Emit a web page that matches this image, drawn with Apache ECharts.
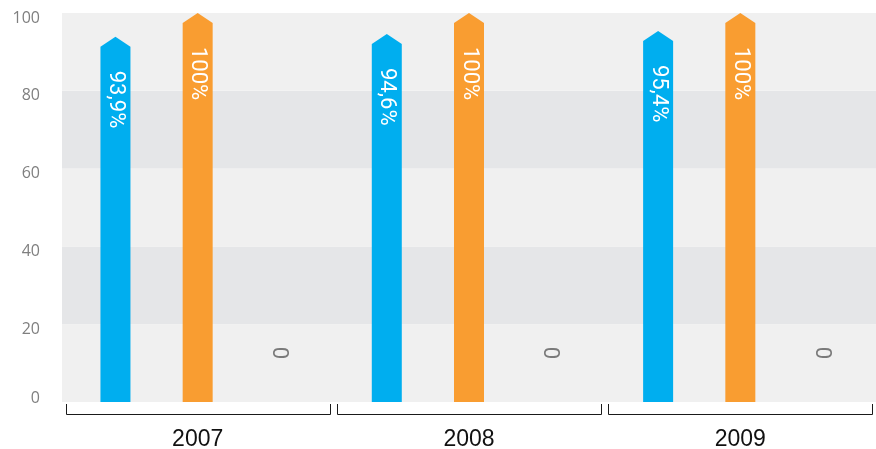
<!DOCTYPE html>
<html>
<head>
<meta charset="utf-8">
<script src="https://cdn.jsdelivr.net/npm/echarts@6/dist/echarts.min.js"></script>
<style>
html,body{margin:0;padding:0;background:#fff;}
#c{width:876px;height:449px;}
</style>
</head>
<body>
<div id="c"></div>
<script>
const categories = ['2007', '2008', '2009'];
const seriesBlue = [93.9, 94.6, 95.4];
const seriesOrange = [100, 100, 100];
const seriesZero = [0, 0, 0];
const yTicks = [0, 20, 40, 60, 80, 100];

function fmt(v) {
  return (Number.isInteger(v) ? String(v) : v.toFixed(1).replace('.', ',')) + '%';
}

function toData(arr) { return arr.map((v, i) => [i, v]); }

function barRenderer(offsetFrac, color) {
  return function (params, api) {
    const cat = api.value(0), v = api.value(1);
    const base = api.coord([cat, 0]);
    const top = api.coord([cat, v]);
    const band = api.size([1, 0])[0];
    const cx = base[0] + band * offsetFrac;
    const w = 30, h = 10;
    return {
      type: 'group',
      children: [
        { type: 'polygon',
          shape: { points: [[cx - w / 2, base[1]], [cx - w / 2, top[1] + h], [cx, top[1]], [cx + w / 2, top[1] + h], [cx + w / 2, base[1]]] },
          style: { fill: color } },
        { type: 'text', x: cx, y: top[1] + 34, rotation: -Math.PI / 2,
          style: { text: fmt(v), fill: '#ffffff', font: '22px Roboto', align: 'left', verticalAlign: 'middle' } }
      ]
    };
  };
}

function zeroRenderer(offsetFrac) {
  return function (params, api) {
    const cat = api.value(0), v = api.value(1);
    const base = api.coord([cat, v]);
    const band = api.size([1, 0])[0];
    const cx = base[0] + band * offsetFrac;
    return {
      type: 'text', x: cx, y: base[1] - 49, rotation: -Math.PI / 2,
      style: { text: String(v), fill: '#7a7a7a', font: '22px Roboto', align: 'center', verticalAlign: 'middle' }
    };
  };
}

function bracketRenderer(params, api) {
  const cat = api.value(0);
  const base = api.coord([cat, 0]);
  const band = api.size([1, 0])[0];
  const half = band / 2 - 3.7;
  const y = Math.round(base[1] + 12) + 0.5, y2 = base[1] + 2;
  const xl = Math.round(base[0] - half) + 0.5, xr = Math.round(base[0] + half) + 0.5;
  return {
    type: 'polyline',
    shape: { points: [[xl, y2], [xl, y], [xr, y], [xr, y2]] },
    style: { stroke: '#1a1a1a', lineWidth: 1, fill: null }
  };
}

const yLabelBase = { fontSize: 16, color: '#7f7f7f', fontFamily: 'Open Sans' };

const chart = echarts.init(document.getElementById('c'), null, { renderer: 'canvas' });
chart.setOption({
  animation: false,
  backgroundColor: '#ffffff',
  grid: { left: 62, right: 0, top: 13, bottom: 47, containLabel: false, outerBoundsMode: 'none' },
  xAxis: {
    type: 'category',
    data: categories,
    axisLine: { show: false },
    axisTick: { show: false },
    axisLabel: { margin: 26, fontSize: 23, color: '#111111', fontFamily: 'Liberation Sans' },
    splitLine: { show: false }
  },
  yAxis: {
    type: 'value',
    min: yTicks[0],
    max: yTicks[yTicks.length - 1],
    interval: yTicks[1] - yTicks[0],
    axisLine: { show: false },
    axisTick: { show: false },
    splitLine: { show: false },
    splitArea: { show: true, areaStyle: { color: ['#f0f0f0', '#e5e6e8'] } },
    axisLabel: {
      margin: 22,
      fontSize: 16, color: '#7f7f7f', fontFamily: 'Open Sans',
      formatter: v => (v === 0 ? '{z|' + v + '}' : '{n|' + v + '}'),
      rich: {
        n: Object.assign({ padding: [10, 0, 0, 0] }, yLabelBase),
        z: Object.assign({ padding: [0, 0, 8, 0] }, yLabelBase)
      }
    }
  },
  series: [
    { type: 'custom', name: 'blue', data: toData(seriesBlue), encode: { x: 0, y: 1 }, renderItem: barRenderer(-0.303, '#00aeef') },
    { type: 'custom', name: 'orange', data: toData(seriesOrange), encode: { x: 0, y: 1 }, renderItem: barRenderer(0, '#f99d31') },
    { type: 'custom', name: 'zero', data: toData(seriesZero), encode: { x: 0, y: 1 }, renderItem: zeroRenderer(0.298) },
    { type: 'custom', name: 'brackets', data: toData(seriesZero), encode: { x: 0, y: 1 }, clip: false, silent: true, renderItem: bracketRenderer }
  ]
});
</script>
</body>
</html>
